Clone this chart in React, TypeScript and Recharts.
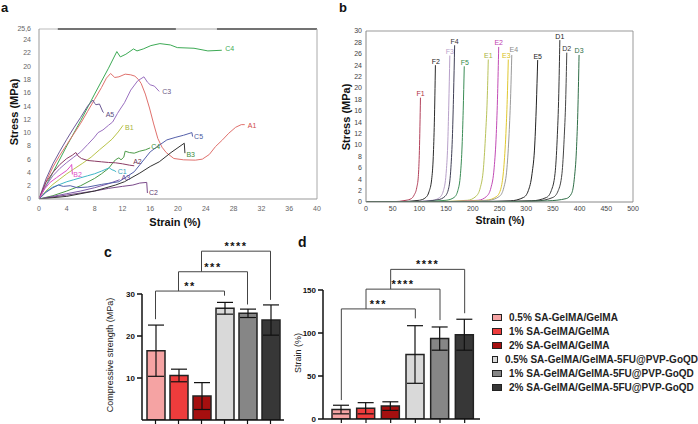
import React from 'react';
import {
  LineChart, Line, XAxis, YAxis, ReferenceLine, ReferenceDot,
  BarChart, Bar, Cell, ErrorBar, Legend,
} from 'recharts';

const FONT = '"Liberation Sans", Arial, Helvetica, sans-serif';

// ---------------- panel a : stress-strain (compression) ----------------
const aXTicks = [0, 4, 8, 12, 16, 20, 24, 28, 32, 36, 40];
const aYTicks = [0, 2, 4, 6, 8, 10, 12, 14, 16, 18, 20, 22, 24, 25.6];

const aC4top = [[0,0],[2,4],[4,8],[6,11.8],[8,15.8],[10,19.7],[11.2,22.2],[11.7,21.4],[12.5,21.8],[13.6,22.6],[14.1,22.3],[15,22.6],[16.1,23.1],[17.4,23.4],[18.9,23.2],[19.9,22.8],[22.3,22.7],[24.3,22.3],[26.3,22.4]];
const aA1 = [[0,0],[1,2.6],[2,4.8],[3,6.6],[4,8.2],[5,9.8],[6,11.4],[7,13.2],[8,15],[9,16.8],[9.7,18.2],[10.3,18.9],[10.9,18.3],[11.5,18.4],[12.4,18.8],[13.2,18.7],[13.8,18.5],[14.3,18],[14.7,17.4],[15.3,15.8],[15.9,13.7],[16.5,11.3],[17.1,9.1],[17.7,7.8],[18.3,7],[19.4,6.1],[20.8,5.9],[22.5,5.85],[23.5,6],[24.5,6.7],[25.4,7.9],[26.4,8.9],[27.3,9.9],[28.3,10.8],[29.1,11.2],[29.6,11.2]];
const aC3 = [[0,0],[1,2],[2,3.5],[3,4.6],[4,5.5],[5,6.3],[6,7.1],[7,8.2],[7.9,9.2],[8.5,10],[9.2,10.4],[10,11.1],[10.6,11.6],[11.3,12.9],[11.6,13.4],[12.3,14.5],[13.2,16.4],[14.2,17.8],[15.1,18.4],[15.6,17.6],[16,17.2],[16.6,17],[17.3,16.2]];
const aA5 = [[0,0],[1,3],[2,5.3],[3,7.2],[4,9],[5,10.7],[6,12.3],[7,14],[7.76,14.9],[8,14.4],[8.2,14.2],[8.7,14.3],[9.2,13.1],[9.3,13]];
const aB1 = [[0,0],[1,1.2],[2,2.2],[3,3],[4,3.8],[5,4.5],[6.3,5.4],[7.5,6.3],[8.7,7.4],[9.5,8.1],[10.5,9],[11.4,10.1],[12.1,11.1]];
const aC4low = [[0,0],[2,0.5],[4,1.2],[6,2],[8,3.1],[9,3.8],[10,4.6],[10.6,5.4],[11,5.9],[11.5,6.2],[11.8,5.9],[12.2,6.3],[12.4,7.2],[13,7],[13.7,6.9],[14.5,7.2],[15.3,7.4],[16,7.7]];
const aA2 = [[0,0],[1,2.5],[2,4],[3,5.2],[4,6.1],[4.8,6.6],[5.3,7],[5.6,6.5],[6.1,6.1],[7,5.8],[8,5.7],[9,5.6],[10,5.5],[11,5.45],[12,5.3],[13,5.1],[13.7,5]];
const aC1 = [[0,0],[1,1.1],[2,1.8],[3,2.2],[4,2.6],[5,2.9],[6,3.2],[7,3.5],[8,3.8],[9,4.2],[10.1,4.7],[10.5,4.4],[10.8,4.3],[11.1,4.1]];
const aB2 = [[0,0],[0.8,1.5],[1.6,2.5],[2.5,3.2],[3.3,3.8],[4,4.3],[4.5,4.9],[4.7,5.2],[4.8,3.7]];
const aA3 = [[0,0],[2,0.4],[4,0.8],[6,1.2],[8,1.7],[10,2.3],[11.6,2.9]];
const aC2 = [[0,0],[2,0.3],[4,0.6],[6,0.9],[8,1.2],[10,1.6],[12,1.9],[13.5,2.1],[14.5,2.4],[15.5,2.5],[15.6,0.9]];
const aC5 = [[0,0],[1,1],[2,1.7],[2.8,2.1],[3.5,1.9],[4.5,2],[5.5,1.7],[7,1.8],[9,2.2],[11.5,2.6],[13.7,4.1],[16,7.1],[17.3,8.1],[18.4,8.9],[19.7,9.3],[20.8,9.6],[22,10],[22.1,9.4]];
const aB3 = [[0,0],[4,0.4],[8,1.2],[11,2.1],[12.3,2.6],[14.5,3.9],[16,4.9],[17.3,5.6],[19,7],[20.9,8.4],[21,6.9]];

const aSeries = [
  { name: 'C4', data: aC4top, color: '#3daa55', labelColor: '#3daa55', dx: 3.5, dy: 1 },
  { name: 'A1', data: aA1, color: '#e0716d', labelColor: '#d04848', dx: 3, dy: 3 },
  { name: 'C3', data: aC3, color: '#9a70c0', labelColor: '#6d5a86', dx: 3, dy: 3 },
  { name: 'A5', data: aA5, color: '#6d5a96', labelColor: '#5a4a80', dx: 2, dy: 4 },
  { name: 'B1', data: aB1, color: '#b9c44a', labelColor: '#a8b43a', dx: 2, dy: 5 },
  { name: 'C4', data: aC4low, color: '#4c9a48', labelColor: '#3d8a3a', dx: 1, dy: 1.5 },
  { name: 'A2', data: aA2, color: '#8c3d66', labelColor: '#6a3050', dx: -1, dy: -1.5 },
  { name: 'C1', data: aC1, color: '#3fb6c6', labelColor: '#30a0b8', dx: 1.5, dy: 2 },
  { name: 'B2', data: aB2, color: '#e050c8', labelColor: '#e050c8', dx: 1, dy: 3 },
  { name: 'A3', data: aA3, color: '#7d5aa8', labelColor: '#6a4a98', dx: 2, dy: 0 },
  { name: 'C2', data: aC2, color: '#7a4a8a', labelColor: '#604070', dx: 1.5, dy: 1.5 },
  { name: 'C5', data: aC5, color: '#5560aa', labelColor: '#4a5aa0', dx: 1.5, dy: 2.6 },
  { name: 'B3', data: aB3, color: '#333333', labelColor: '#3a8a3a', dx: 1.5, dy: 3.5 },
];

// ---------------- panel b : stress-strain (compression) ----------------
const bXTicks = [0, 50, 100, 150, 200, 250, 300, 350, 400, 450, 500];
const bYTicks = [0, 2, 4, 6, 8, 10, 12, 14, 16, 18, 20, 22, 24, 26, 28, 30];

const bF1 = [[0,0],[50,0.05],[75,0.3],[85,0.6],[90,1.2],[95,2.5],[98,4.5],[100,9],[102,18.3]];
const bF2 = [[0,0],[60,0.05],[100,0.3],[112,0.8],[118,1.8],[123,4],[126,8],[128,14],[130,24]];
const bF3 = [[0,0],[80,0.05],[125,0.3],[138,0.8],[145,2],[150,5],[153,10],[155,17],[157,25.7]];
const bF4 = [[0,0],[90,0.05],[135,0.4],[148,1],[155,2.5],[159,6],[162,12],[164,19],[166,27.5]];
const bF5 = [[0,0],[100,0.05],[150,0.3],[165,0.8],[172,2],[177,5],[180,10],[182,16],[184,23.8]];
const bE1 = [[0,0],[120,0.05],[190,0.3],[206,1],[214,2.5],[220,6],[224,12],[227,18],[229,25]];
const bE2 = [[0,0],[140,0.05],[210,0.3],[226,1],[234,2.5],[240,6],[244,12],[246.5,19],[248.5,27.2]];
const bE3 = [[0,0],[150,0.05],[225,0.3],[245,1],[253,2.5],[258,6],[262,12],[264.5,18],[266.5,25]];
const bE4 = [[0,0],[160,0.05],[230,0.3],[250,1],[258,2.5],[264,6],[268,12],[271,19],[273,25.8]];
const bE5 = [[0,0],[180,0.05],[270,0.2],[295,0.8],[304,2],[311,5],[316,10],[319,17],[321.5,24.9]];
const bD1 = [[0,0],[200,0.05],[310,0.2],[338,0.8],[347,2],[354,5],[358,11],[361,19],[363,28.4]];
const bD2 = [[0,0],[220,0.05],[320,0.2],[350,0.8],[360,2],[367,5],[371,11],[374,18],[376,26.2]];
const bD3 = [[0,0],[240,0.05],[340,0.2],[375,0.6],[385,1.5],[390,4],[394,9],[397,17],[399,25.8]];

const bSeries = [
  { name: 'F1', data: bF1, color: '#b2415a', labelColor: '#b03040', dx: 0, dy: -1.5 },
  { name: 'F2', data: bF2, color: '#2b2b2b', labelColor: '#222222', dx: 0.5, dy: -1.5 },
  { name: 'F3', data: bF3, color: '#b7a0c9', labelColor: '#b7a0c9', dx: 0, dy: -1.5 },
  { name: 'F4', data: bF4, color: '#3f3f55', labelColor: '#333333', dx: 0, dy: -1.5 },
  { name: 'F5', data: bF5, color: '#3a8c55', labelColor: '#2f8a4a', dx: 0.5, dy: -1.5 },
  { name: 'E1', data: bE1, color: '#b9c25a', labelColor: '#a8b040', dx: 0, dy: -1.5 },
  { name: 'E2', data: bE2, color: '#c24bb5', labelColor: '#c040b0', dx: 0, dy: -1.5 },
  { name: 'E3', data: bE3, color: '#e0c830', labelColor: '#d8c020', dx: -2, dy: -1.5 },
  { name: 'E4', data: bE4, color: '#9a9a9a', labelColor: '#8a8a8a', dx: 2, dy: -3 },
  { name: 'E5', data: bE5, color: '#222222', labelColor: '#222222', dx: 0, dy: -1.5 },
  { name: 'D1', data: bD1, color: '#333333', labelColor: '#222222', dx: 0, dy: -1.5 },
  { name: 'D2', data: bD2, color: '#444444', labelColor: '#333333', dx: 0, dy: -1.5 },
  { name: 'D3', data: bD3, color: '#2f6e47', labelColor: '#2f6e47', dx: 0, dy: -1.5 },
];

// ---------------- panels c & d : bar charts ----------------
const groups = [
  '0.5% SA-GelMA/GelMA',
  '1% SA-GelMA/GelMA',
  '2% SA-GelMA/GelMA',
  '0.5% SA-GelMA/GelMA-5FU@PVP-GoQD',
  '1% SA-GelMA/GelMA-5FU@PVP-GoQD',
  '2% SA-GelMA/GelMA-5FU@PVP-GoQD',
];
const barColors = ['#f5a3a3', '#ee3c3c', '#a50f0f', '#d9d9d9', '#868686', '#373737'];

const compMean = [16.5, 10.6, 5.7, 26.6, 25.4, 23.8];
const compErr = [6.1, 1.5, 3.2, 1.4, 1.0, 3.6];
const compTicks = [0, 10, 20, 30];
// [fromIndex, toIndex, level, leftLegEnd, rightLegEnd, label]
const compSig: [number, number, number, number, number, string][] = [
  [0, 3, 30.7, 24.0, 29.6, '**'],
  [1, 4, 35.3, 30.7, 27.5, '***'],
  [2, 5, 40.2, 35.3, 28.6, '****'],
];

const strainMean = [11, 12.5, 15, 75, 93.5, 98];
const strainErr = [5, 6.5, 5, 33.5, 13.5, 18];
const strainTicks = [0, 50, 100, 150];
const strainSig: [number, number, number, number, number, string][] = [
  [0, 3, 128, 22, 117, '***'],
  [1, 4, 151, 128, 115, '****'],
  [2, 5, 174, 151, 123, '****'],
];

const toPts = (arr: number[][]) => arr.map(([x, y]) => ({ x, y }));

const tickStyleA = { fontSize: 7, fill: '#666', fontFamily: FONT };
const tickStyleB = { fontSize: 7, fill: '#444', fontFamily: FONT };
const tickStyleBar = { fontSize: 8, fill: '#111', fontFamily: FONT, fontWeight: 'bold' };

function endLabel(text: string, color: string, dx: number, dy: number, anchor: 'start' | 'middle') {
  return (props: any) => {
    const vb = props.viewBox || {};
    const x = (vb.x ?? props.x) + (vb.width ? vb.width / 2 : 0);
    const y = (vb.y ?? props.y) + (vb.height ? vb.height / 2 : 0);
    return (
      <text x={x + dx} y={y + dy} fill={color} fontSize={7} fontFamily={FONT} textAnchor={anchor}>
        {text}
      </text>
    );
  };
}

function PanelA() {
  return (
    <LineChart width={330} height={230} margin={{ top: 29, right: 13, left: 0, bottom: 0 }}>
      <XAxis type="number" dataKey="x" domain={[0, 40]} ticks={aXTicks} height={31}
        tick={tickStyleA} tickLine={false} tickSize={5} tickMargin={2}
        axisLine={{ stroke: '#999' }} allowDataOverflow />
      <YAxis type="number" dataKey="y" domain={[0, 25.6]} ticks={aYTicks} width={39}
        tick={tickStyleA} tickLine={false} interval={0}
        tickFormatter={(v: number) => String(v).replace('.', ',')}
        axisLine={{ stroke: '#999' }} allowDataOverflow />
      <ReferenceLine segment={[{ x: 0, y: 25.6 }, { x: 2.7, y: 25.6 }]} stroke="#bbb" />
      <ReferenceLine segment={[{ x: 2.7, y: 25.6 }, { x: 19.7, y: 25.6 }]} stroke="#444" strokeWidth={1.5} />
      <ReferenceLine segment={[{ x: 19.7, y: 25.6 }, { x: 25.6, y: 25.6 }]} stroke="#aaa" />
      <ReferenceLine segment={[{ x: 25.6, y: 25.6 }, { x: 40, y: 25.6 }]} stroke="#444" strokeWidth={1.5} />
      <ReferenceLine x={40} stroke="#aaa" />
      {aSeries.map((s, i) => (
        <Line key={'a' + i} data={toPts(s.data)} dataKey="y" type="linear" stroke={s.color}
          strokeWidth={1} dot={false} activeDot={false} isAnimationActive={false} />
      ))}
      {aSeries.map((s, i) => {
        const last = s.data[s.data.length - 1];
        return (
          <ReferenceDot key={'al' + i} x={last[0]} y={last[1]} r={0} stroke="none" fill="none"
            label={{ content: endLabel(s.name, s.labelColor, s.dx, s.dy, 'start') }} />
        );
      })}
    </LineChart>
  );
}

function PanelB() {
  return (
    <LineChart width={320} height={230} margin={{ top: 31, right: 17, left: 0, bottom: 0 }}>
      <XAxis type="number" dataKey="x" domain={[0, 500]} ticks={bXTicks} height={28}
        tick={tickStyleB} tickLine={false} tickSize={2} tickMargin={2} interval={0}
        axisLine={{ stroke: '#888' }} allowDataOverflow />
      <YAxis type="number" dataKey="y" domain={[0, 30]} ticks={bYTicks} width={36}
        tick={tickStyleB} tickLine={false} tickSize={2} tickMargin={2} interval={0}
        axisLine={{ stroke: '#888' }} allowDataOverflow />
      <ReferenceLine y={30} stroke="#999" />
      <ReferenceLine x={500} stroke="#999" />
      {bSeries.map((s, i) => (
        <Line key={'b' + i} data={toPts(s.data)} dataKey="y" type="monotone" stroke={s.color}
          strokeWidth={1} dot={false} activeDot={false} isAnimationActive={false} />
      ))}
      {bSeries.map((s, i) => {
        const last = s.data[s.data.length - 1];
        return (
          <ReferenceDot key={'bl' + i} x={last[0]} y={last[1]} r={0} stroke="none" fill="none"
            label={{ content: endLabel(s.name, s.labelColor, s.dx, s.dy, 'middle') }} />
        );
      })}
    </LineChart>
  );
}

function brackets(sig: [number, number, number, number, number, string][], prefix: string) {
  const out: any[] = [];
  sig.forEach(([a, b, lvl, le, re, txt], i) => {
    out.push(
      <ReferenceLine key={prefix + 'h' + i} ifOverflow="visible"
        segment={[{ x: groups[a], y: lvl }, { x: groups[b], y: lvl }]}
        stroke="#444" strokeWidth={1}
        label={{ value: txt, position: 'top', offset: 1, fill: '#111', fontSize: 11, fontWeight: 'bold', letterSpacing: 1.5, fontFamily: FONT }} />
    );
    out.push(
      <ReferenceLine key={prefix + 'l' + i} ifOverflow="visible"
        segment={[{ x: groups[a], y: lvl }, { x: groups[a], y: le }]} stroke="#444" strokeWidth={1} />
    );
    out.push(
      <ReferenceLine key={prefix + 'r' + i} ifOverflow="visible"
        segment={[{ x: groups[b], y: lvl }, { x: groups[b], y: re }]} stroke="#444" strokeWidth={1} />
    );
  });
  return out;
}

function PanelC() {
  const data = groups.map((name, i) => ({ name, v: compMean[i], e: compErr[i] }));
  return (
    <BarChart width={230} height={194} data={data} margin={{ top: 64, right: 8, left: 0, bottom: 0 }} barSize={18}>
      <XAxis dataKey="name" height={4} tickSize={4} interval={0} tickFormatter={() => ''}
        padding={{ left: 2, right: 2 }} axisLine={{ stroke: '#111', strokeWidth: 1.5 }}
        tickLine={{ stroke: '#111', strokeWidth: 1.2 }} />
      <YAxis type="number" domain={[0, 30]} ticks={compTicks} width={80} tick={tickStyleBar}
        tickSize={5} tickMargin={2} axisLine={{ stroke: '#111', strokeWidth: 1.5 }}
        tickLine={{ stroke: '#111', strokeWidth: 1.5 }} allowDataOverflow />
      <Bar dataKey="v" stroke="#222" strokeWidth={1.5} isAnimationActive={false}>
        {data.map((d, i) => <Cell key={i} fill={barColors[i]} />)}
        <ErrorBar dataKey="e" width={8} stroke="#111" strokeWidth={1.2} direction="y" />
      </Bar>
      {brackets(compSig, 'c')}
    </BarChart>
  );
}

function LegendBox() {
  return (
    <div style={{ fontFamily: FONT, fontSize: 10, fontWeight: 'bold', color: '#222' }}>
      {groups.map((g, i) => (
        <div key={i} style={{ height: 14, display: 'flex', alignItems: 'center', whiteSpace: 'nowrap' }}>
          <span style={{ display: 'inline-block', width: 8, height: 5, background: barColors[i], border: '1px solid #222', marginRight: 7 }} />
          <span>{g}</span>
        </div>
      ))}
    </div>
  );
}

function PanelD() {
  const data = groups.map((name, i) => ({ name, v: strainMean[i], e: strainErr[i] }));
  return (
    <BarChart width={428} height={194} data={data} margin={{ top: 60, right: 218, left: 0, bottom: 0 }} barSize={18}>
      <XAxis dataKey="name" height={5} tickSize={4} interval={0} tickFormatter={() => ''}
        padding={{ left: 6, right: 3 }} axisLine={{ stroke: '#111', strokeWidth: 1.5 }}
        tickLine={{ stroke: '#111', strokeWidth: 1.2 }} />
      <YAxis type="number" domain={[0, 150]} ticks={strainTicks} width={53} tick={tickStyleBar}
        tickSize={5} tickMargin={2} axisLine={{ stroke: '#111', strokeWidth: 1.5 }}
        tickLine={{ stroke: '#111', strokeWidth: 1.5 }} allowDataOverflow />
      <Bar dataKey="v" stroke="#222" strokeWidth={1.5} isAnimationActive={false}>
        {data.map((d, i) => <Cell key={i} fill={barColors[i]} />)}
        <ErrorBar dataKey="e" width={8} stroke="#111" strokeWidth={1.2} direction="y" />
      </Bar>
      {brackets(strainSig, 'd')}
      <Legend layout="vertical" align="center" verticalAlign="middle" content={() => <LegendBox />}
        wrapperStyle={{ left: 222, top: 80, width: 206, height: 90 }} />
    </BarChart>
  );
}

export default function App() {
  return (
    <div style={{ position: 'absolute', left: 0, top: 0, width: 698, height: 424, background: '#fff', overflow: 'hidden', fontFamily: FONT }}>
      <div style={{ position: 'absolute', left: 0, top: 0 }}><PanelA /></div>
      <div style={{ position: 'absolute', left: 330, top: 0 }}><PanelB /></div>
      <div style={{ position: 'absolute', left: 62, top: 230 }}><PanelC /></div>
      <div style={{ position: 'absolute', left: 270, top: 230 }}><PanelD /></div>
      <svg width={698} height={424} style={{ position: 'absolute', left: 0, top: 0, pointerEvents: 'none' }} fontFamily={FONT}>
        <text x={1} y={11.5} fontSize={13} fontWeight="bold" fill="#111">a</text>
        <text x={339} y={11.5} fontSize={13} fontWeight="bold" fill="#111">b</text>
        <text x={104} y={257} fontSize={14} fontWeight="bold" fill="#111">c</text>
        <text x={298} y={247} fontSize={14} fontWeight="bold" fill="#111">d</text>
        <text transform="translate(18,112) rotate(-90)" textAnchor="middle" fontSize={11} fontWeight="bold" fill="#111">Stress (MPa)</text>
        <text x={175} y={226} textAnchor="middle" fontSize={11} fontWeight="bold" fill="#111">Strain (%)</text>
        <text transform="translate(349.5,117) rotate(-90)" textAnchor="middle" fontSize={11} fontWeight="bold" fill="#111">Stress (MPa)</text>
        <text x={500} y={224} textAnchor="middle" fontSize={10.5} fontWeight="bold" fill="#111">Strain (%)</text>
        <text transform="translate(113,355) rotate(-90)" textAnchor="middle" fontSize={9} fill="#222">Compressive strength (MPa)</text>
        <text transform="translate(300.5,353) rotate(-90)" textAnchor="middle" fontSize={9} fill="#222">Strain (%)</text>
      </svg>
    </div>
  );
}
